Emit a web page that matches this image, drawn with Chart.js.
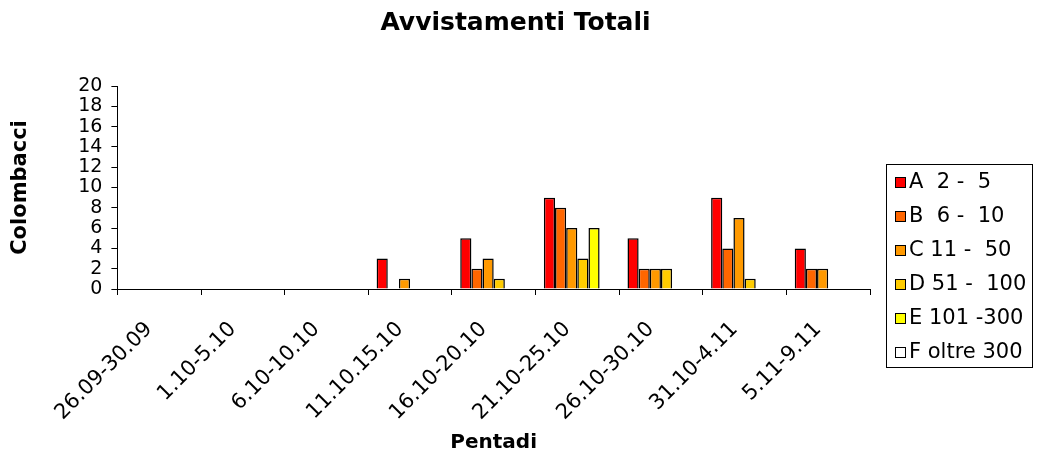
<!DOCTYPE html>
<html>
<head>
<meta charset="utf-8">
<script src="https://cdn.jsdelivr.net/npm/chart.js@4.4.0/dist/chart.umd.min.js"></script>
<style>
html,body{margin:0;padding:0;background:#fff;}
#wrap{position:relative;width:1037px;height:457px;}
</style>
</head>
<body>
<div id="wrap"><canvas id="c" width="1037" height="457"></canvas></div>
<script>
const categories = ["26.09-30.09","1.10-5.10","6.10-10.10","11.10.15.10","16.10-20.10","21.10-25.10","26.10-30.10","31.10-4.11","5.11-9.11"];
const seriesNames = ["A  2 -  5","B  6 -  10","C 11 -  50","D 51 -  100","E 101 -300","F oltre 300"];
const seriesA = [0,0,0,3,5,9,5,9,4];
const seriesB = [0,0,0,0,2,8,2,4,2];
const seriesC = [0,0,0,1,3,6,2,7,2];
const seriesD = [0,0,0,0,1,3,2,1,0];
const seriesE = [0,0,0,0,0,6,0,0,0];
const seriesF = [0,0,0,0,0,0,0,0,0];
const yTicks = [0,2,4,6,8,10,12,14,16,18,20];
const colors = ["#FF0000","#FF6600","#FF9900","#FFCC00","#FFFF00","#FFFFFF"];
const allSeries = [seriesA,seriesB,seriesC,seriesD,seriesE,seriesF];

const FONT = "'DejaVu Sans', Verdana, sans-serif";

const boxLegend = {
  id: 'boxLegend',
  afterDraw(chart) {
    const ctx = chart.ctx;
    const x0 = 886, y0 = 164, w = 146, h = 203;
    ctx.save();
    ctx.strokeStyle = '#000';
    ctx.lineWidth = 1;
    ctx.strokeRect(x0 + 0.5, y0 + 0.5, w, h);
    ctx.font = '21px ' + FONT;
    ctx.textBaseline = 'middle';
    chart.data.datasets.forEach((ds, i) => {
      const cy = y0 + 18 + i * 34;
      ctx.fillStyle = ds.backgroundColor;
      ctx.fillRect(895, cy - 5, 10, 10);
      ctx.strokeStyle = '#000';
      ctx.strokeRect(895.5, cy - 4.5, 10, 10);
      ctx.fillStyle = '#000';
      ctx.fillText(ds.label, 909, cy + 1);
    });
    ctx.restore();
  }
};

new Chart(document.getElementById('c'), {
  type: 'bar',
  data: {
    labels: categories,
    datasets: allSeries.map((d, i) => ({
      label: seriesNames[i],
      data: d,
      backgroundColor: colors[i],
      borderColor: '#000',
      borderWidth: 1.5,
      borderSkipped: 'bottom',
      barPercentage: 1.0,
      categoryPercentage: 0.8
    }))
  },
  options: {
    responsive: false,
    animation: false,
    devicePixelRatio: 1,
    layout: { padding: { left: 0, right: 6, top: 8, bottom: 2 } },
    plugins: {
      legend: { display: false },
      tooltip: { enabled: false },
      title: {
        display: true,
        text: 'Avvistamenti Totali',
        color: '#000',
        font: { family: FONT, size: 25, weight: 'bold' },
        padding: { top: 0, bottom: 48 }
      }
    },
    scales: {
      x: {
        grid: { display: true, drawOnChartArea: false, drawTicks: true, tickLength: 6, color: '#000', offset: true },
        border: { display: true, color: '#000', width: 1 },
        ticks: {
          color: '#000',
          font: { family: FONT, size: 21 },
          maxRotation: 45, minRotation: 45,
          autoSkip: false,
          labelOffset: -10,
          padding: 22
        },
        title: {
          display: true,
          text: 'Pentadi',
          color: '#000',
          font: { family: FONT, size: 20, weight: 'bold' },
          padding: { top: 0, bottom: 0 }
        },
        afterFit(axis) { axis.height = 166; }
      },
      y: {
        min: 0, max: 20,
        afterBuildTicks(axis) { axis.ticks = yTicks.map(v => ({ value: v })); },
        grid: { display: true, drawOnChartArea: false, drawTicks: true, tickLength: 6, color: '#000' },
        border: { display: true, color: '#000', width: 1 },
        ticks: {
          color: '#000',
          font: { family: FONT, size: 19, lineHeight: 1 },
          autoSkip: false,
          padding: 9
        },
        title: {
          display: true,
          text: 'Colombacci',
          color: '#000',
          font: { family: FONT, size: 21, weight: 'bold' },
          padding: { top: 8, bottom: 36 }
        }
      },
      yLegendSpace: {
        position: 'right',
        display: true,
        grid: { display: false },
        border: { display: false },
        ticks: { display: false },
        afterFit(axis) { axis.width = 161; }
      }
    }
  },
  plugins: [boxLegend]
});
</script>
</body>
</html>
